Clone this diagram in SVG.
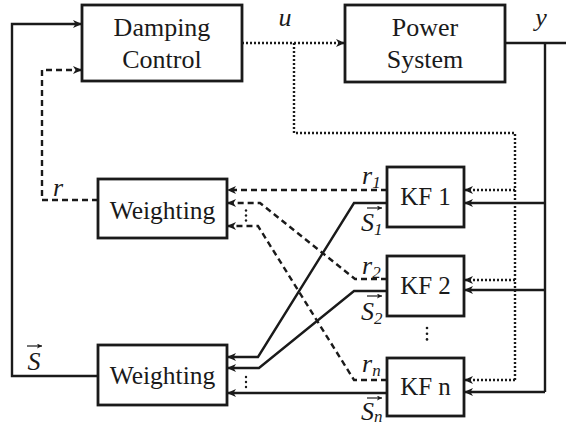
<svg xmlns="http://www.w3.org/2000/svg" width="566" height="426" viewBox="0 0 566 426">
<defs>
<marker id="ah" markerUnits="userSpaceOnUse" markerWidth="10" markerHeight="8" refX="9" refY="4" orient="auto">
<path d="M0,0 L9,4 L0,8 L2.5,4 z" fill="#1a1a1a"/>
</marker>
<marker id="vh" markerUnits="userSpaceOnUse" markerWidth="6" markerHeight="5" refX="5" refY="2.5" orient="auto">
<path d="M0,0 L5,2.5 L0,5 L1.2,2.5 z" fill="#1a1a1a"/>
</marker>
</defs>
<style>
.box{fill:#fff;stroke:#1a1a1a;stroke-width:2.8}
.lbl{font-family:'Liberation Serif','DejaVu Serif',serif;font-size:25px;fill:#1a1a1a;text-anchor:middle}
.big{font-size:26px}
.w{font-size:25.5px}
.m{font-family:'Liberation Serif','DejaVu Serif',serif;font-style:italic;font-size:26px;fill:#1a1a1a}
.sub{font-size:17px}
.sol{fill:none;stroke:#1a1a1a;stroke-width:2.4}
.dash{fill:none;stroke:#1a1a1a;stroke-width:2.4;stroke-dasharray:6 4}
.dot{fill:none;stroke:#1a1a1a;stroke-width:2.4;stroke-dasharray:2 2}
.vec{fill:none;stroke:#1a1a1a;stroke-width:1.2}
.ar{marker-end:url(#ah)}
</style>
<rect width="566" height="426" fill="#fff"/>
<g id="connectors">
<polyline class="sol ar" points="98,376 12,376 12,24 82,24"/>
<polyline class="dash ar" points="98,200 42,200 42,70 82,70"/>
<polyline class="dot ar" points="242,43 345,43"/>
<polyline class="dot" points="294,43 294,133 515,133 515,380"/>
<polyline class="dot ar" points="515,190 464,190"/>
<polyline class="dot ar" points="515,280 464,280"/>
<polyline class="dot ar" points="515,380 464,380"/>
<polyline class="sol" points="505,43 566,43"/>
<polyline class="sol" points="545,43 545,392"/>
<polyline class="sol ar" points="545,203 464,203"/>
<polyline class="sol ar" points="545,290 464,290"/>
<polyline class="sol ar" points="545,392 464,392"/>
<polyline class="dash ar" points="387,190 227,190"/>
<polyline class="dash ar" points="387,279 355,279 260,203 227,203"/>
<polyline class="dash ar" points="387,380 354,380 258,226 227,226"/>
<polyline class="sol ar" points="387,203 354,203 258,357 227,357"/>
<polyline class="sol ar" points="387,291 354,291 259,368 227,368"/>
<polyline class="sol ar" points="387,393 227,393"/>
<g fill="#1a1a1a">
<circle cx="246" cy="210.5" r="1.2"/><circle cx="246" cy="215.5" r="1.2"/><circle cx="246" cy="220.5" r="1.2"/>
<circle cx="246" cy="377" r="1.2"/><circle cx="246" cy="382" r="1.2"/><circle cx="246" cy="387" r="1.2"/>
<circle cx="427" cy="328" r="1.3"/><circle cx="427" cy="333.7" r="1.3"/><circle cx="427" cy="339.4" r="1.3"/>
</g>
</g>
<g id="damping">
<rect class="box" x="82" y="5" width="160" height="76"/>
<text class="lbl big" x="162" y="36">Damping</text>
<text class="lbl big" x="162" y="68">Control</text>
</g>
<g id="power">
<rect class="box" x="345" y="5" width="160" height="77"/>
<text class="lbl big" x="425" y="36">Power</text>
<text class="lbl big" x="425" y="68">System</text>
</g>
<g id="weight1">
<rect class="box" x="98" y="179" width="129" height="59"/>
<text class="lbl w" x="162.5" y="218.5">Weighting</text>
</g>
<g id="weight2">
<rect class="box" x="98" y="345" width="129" height="60"/>
<text class="lbl w" x="162.5" y="384">Weighting</text>
</g>
<g id="kf1">
<rect class="box" x="387" y="167" width="77" height="60"/>
<text class="lbl" x="425.5" y="205">KF 1</text>
</g>
<g id="kf2">
<rect class="box" x="387" y="256" width="77" height="60"/>
<text class="lbl" x="425.5" y="294">KF 2</text>
</g>
<g id="kfn">
<rect class="box" x="387" y="358" width="77" height="58"/>
<text class="lbl" x="425.5" y="395">KF n</text>
</g>
<g id="labels">
<text class="m" x="285" y="26" text-anchor="middle">u</text>
<text class="m" x="541" y="26" text-anchor="middle">y</text>
<text class="m" x="58" y="196" text-anchor="middle">r</text>
<text class="m" x="34" y="370" text-anchor="middle">S</text>
<path class="vec" d="M27,346 L42,346" marker-end="url(#vh)"/>
<text class="m" x="362" y="184">r<tspan class="sub" dy="4">1</tspan></text>
<text class="m" x="362" y="274">r<tspan class="sub" dy="4">2</tspan></text>
<text class="m" x="362" y="372">r<tspan class="sub" dy="4">n</tspan></text>
<text class="m" x="361" y="231">S<tspan class="sub" dy="4">1</tspan></text>
<path class="vec" d="M367,208 L382,208" marker-end="url(#vh)"/>
<text class="m" x="361" y="420">S<tspan class="sub" dy="2">n</tspan></text>
<path class="vec" d="M367,398 L382,398" marker-end="url(#vh)"/>
<text class="m" x="361" y="320">S<tspan class="sub" dy="4">2</tspan></text>
<path class="vec" d="M367,296 L382,296" marker-end="url(#vh)"/>
</g>
</svg>
